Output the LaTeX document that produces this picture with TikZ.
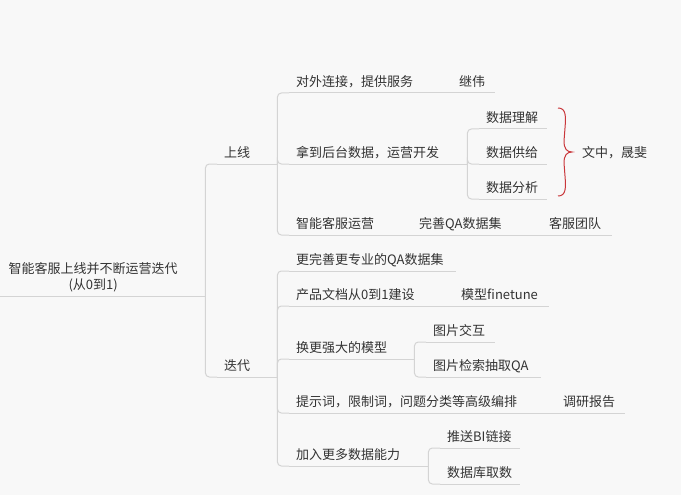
\documentclass[tikz,border=0pt]{standalone}
\usepackage{fontspec}
\setmainfont{Noto Sans CJK SC}
\definecolor{bg}{HTML}{F8F8F8}
\definecolor{linegray}{HTML}{D4D4D4}
\definecolor{inkgray}{HTML}{333333}
\definecolor{bracered}{HTML}{C9363A}
\tikzset{
  uline/.style={draw=linegray, line width=1pt},
  link/.style={draw=linegray, line width=1pt, rounded corners=4pt},
  topic/.style={anchor=south west, inner xsep=7pt, inner ysep=6pt, text depth=0pt,
    align=left, text=inkgray, font=\fontsize{13}{16}\selectfont,
    append after command={(\tikzlastnode.south west) edge[uline] (\tikzlastnode.south east)}},
  roottopic/.style={anchor=south west, inner xsep=0pt, inner ysep=4pt,
    align=center, text=inkgray, font=\fontsize{13}{16}\selectfont,
    append after command={(\tikzlastnode.south west) edge[uline] (\tikzlastnode.south east)}},
}
\begin{document}
\begin{tikzpicture}[x=1pt, y=-1pt]
    \useasboundingbox[fill=bg] (0,0) rectangle (681,495);

    % Root
    \node[roottopic, text width=224pt] (root) at (-19,296) {智能客服上线并不断运营迭代\\(从0到1)};

    % Main branches
    \node[topic, text width=46pt] (online) at (217,164) {上线};
    \node[topic, text width=46pt] (iterate) at (217,377) {迭代};

    % Online
    \node[topic, text width=137pt] (serve) at (289,93) {对外连接，提供服务};
    \node[topic, text width=29pt] (serveown) at (452,93) {继伟};
    \node[topic, text width=164pt] (backend) at (289,164) {拿到后台数据，运营开发};
    \node[topic, text width=54pt] (understand) at (479,129) {数据理解};
    \node[topic, text width=54pt] (supply) at (479,164) {数据供给};
    \node[topic, text width=54pt] (analyse) at (479,199) {数据分析};
    \node[topic, text width=97pt] (operate) at (289,235) {智能客服运营};
    \node[topic, text width=104pt] (qaset) at (412,235) {完善QA数据集};
    \node[topic, text width=56pt] (team) at (542,235) {客服团队};

    % Iterate
    \node[topic, text width=153pt] (qapro) at (289,271) {更完善更专业的QA数据集};
    \node[topic, text width=139pt] (docs) at (289,306) {产品文档从0到1建设};
    \node[topic, text width=81pt] (finetune) at (454,306) {模型finetune};
    \node[topic, text width=111pt] (model) at (289,359) {换更强大的模型};
    \node[topic, text width=55pt] (imgchat) at (426,342) {图片交互};
    \node[topic, text width=101pt] (imgqa) at (426,377) {图片检索抽取QA};
    \node[topic, text width=241pt] (prompt) at (289,413) {提示词，限制词，问题分类等高级编排};
    \node[topic, text width=55pt] (report) at (556,413) {调研报告};
    \node[topic, text width=125pt] (dataability) at (289,466) {加入更多数据能力};
    \node[topic, text width=66pt] (bilink) at (440,448) {推送BI链接};
    \node[topic, text width=66pt] (dbfetch) at (440,484) {数据库取数};

    % Owner of the data tasks
    \node[anchor=west, inner sep=0pt, text=inkgray, font=\fontsize{13}{16}\selectfont] (owner) at (582,153) {文中，晟斐};
    \draw[bracered, line width=1pt] (558,108) .. controls (566,108) and (566,116) .. (565,128)
      -- (564,141) .. controls (564,149) and (567,152) .. (572,152)
      .. controls (567,152) and (564,155) .. (564,163)
      -- (565,176) .. controls (566,188) and (566,196) .. (558,196);

    % Connectors
    \foreach \child in {online, iterate}
        \draw[link] (root.south east) |- (\child.south west);
    \foreach \child in {serve, backend, operate}
        \draw[link] (online.south east) |- (\child.south west);
    \foreach \child in {understand, supply, analyse}
        \draw[link] (backend.south east) |- (\child.south west);
    \foreach \child in {qapro, docs, model, prompt, dataability}
        \draw[link] (iterate.south east) |- (\child.south west);
    \foreach \child in {imgchat, imgqa}
        \draw[link] (model.south east) |- (\child.south west);
    \foreach \child in {bilink, dbfetch}
        \draw[link] (dataability.south east) |- (\child.south west);
    \draw[link] (serve.south east) -- (serveown.south west);
    \draw[link] (operate.south east) -- (qaset.south west);
    \draw[link] (qaset.south east) -- (team.south west);
    \draw[link] (docs.south east) -- (finetune.south west);
    \draw[link] (prompt.south east) -- (report.south west);
\end{tikzpicture}
\end{document}
